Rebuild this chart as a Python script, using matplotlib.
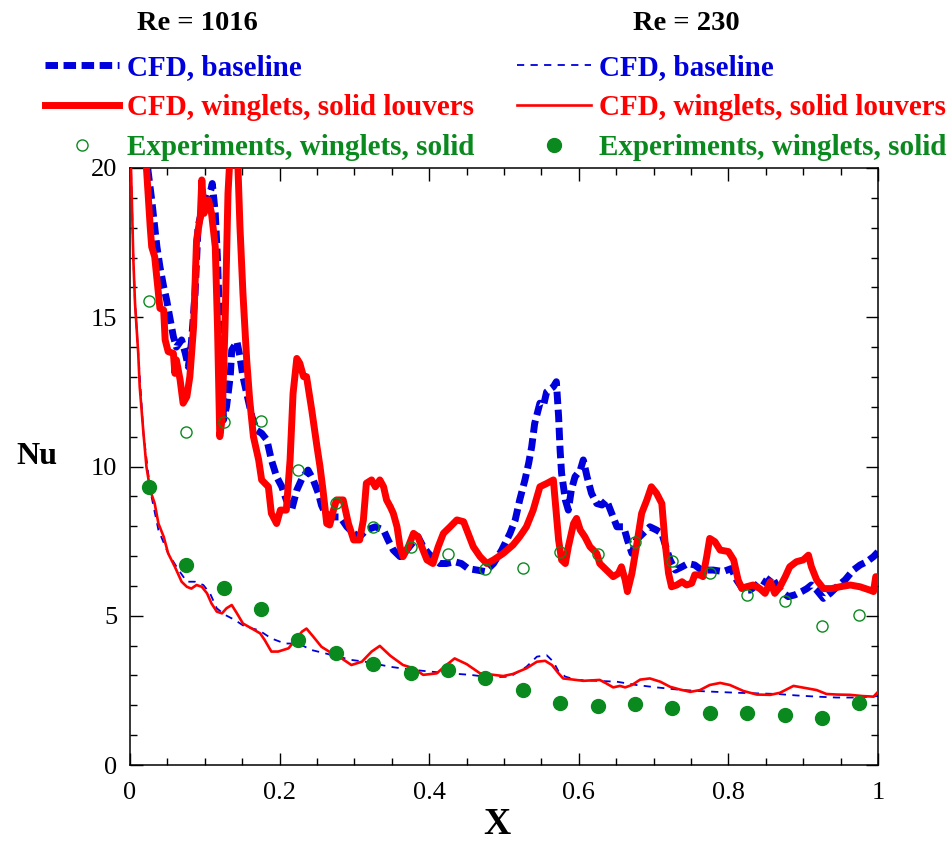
import matplotlib.pyplot as plt
from matplotlib.ticker import MultipleLocator, FuncFormatter

plt.rcParams['font.family'] = 'Liberation Serif'

BLUE = '#0000dd'
RED = '#ff0000'
GREEN = '#0a8a1e'

# Experiments (same x stations for both Re)
x_exp = [0.025, 0.075, 0.125, 0.175, 0.225, 0.275, 0.325, 0.375, 0.425, 0.475,
         0.525, 0.575, 0.625, 0.675, 0.725, 0.775, 0.825, 0.875, 0.925, 0.975]
nu_exp_1016 = [15.54, 11.16, 11.49, 11.52, 9.88, 8.78, 7.97, 7.30, 7.07, 6.57,
               6.60, 7.14, 7.07, 7.47, 6.83, 6.43, 5.70, 5.49, 4.66, 5.02]
nu_exp_230 = [9.31, 6.70, 5.93, 5.23, 4.19, 3.75, 3.38, 3.08, 3.18, 2.91,
              2.51, 2.08, 1.98, 2.04, 1.91, 1.74, 1.74, 1.68, 1.57, 2.08]

# CFD, winglets, solid louvers, Re = 1016
x_wing_1016 = [0.015, 0.022, 0.027, 0.029, 0.033, 0.038, 0.040, 0.045, 0.047, 0.051,
               0.058, 0.060, 0.062, 0.067, 0.071, 0.076, 0.080, 0.085, 0.089, 0.094,
               0.096, 0.099, 0.105, 0.109, 0.114, 0.117, 0.120, 0.123, 0.127, 0.131,
               0.135, 0.143, 0.147, 0.151, 0.156, 0.160, 0.165, 0.172, 0.176, 0.185,
               0.189, 0.196, 0.201, 0.209, 0.214, 0.218, 0.223, 0.227, 0.232, 0.236,
               0.243, 0.250, 0.254, 0.258, 0.263, 0.267, 0.272, 0.276, 0.285, 0.292,
               0.299, 0.307, 0.312, 0.316, 0.323, 0.328, 0.334, 0.339, 0.343, 0.348,
               0.352, 0.357, 0.361, 0.365, 0.372, 0.379, 0.385, 0.390, 0.397, 0.405,
               0.412, 0.419, 0.428, 0.437, 0.446, 0.452, 0.459, 0.468, 0.477, 0.486,
               0.499, 0.512, 0.521, 0.530, 0.539, 0.548, 0.557, 0.566, 0.573, 0.577,
               0.582, 0.586, 0.593, 0.597, 0.602, 0.608, 0.615, 0.624, 0.628, 0.637,
               0.646, 0.653, 0.657, 0.662, 0.665, 0.671, 0.677, 0.684, 0.691, 0.697,
               0.704, 0.711, 0.715, 0.720, 0.724, 0.731, 0.738, 0.744, 0.751, 0.755,
               0.762, 0.766, 0.771, 0.775, 0.782, 0.789, 0.800, 0.807, 0.813, 0.818,
               0.824, 0.833, 0.842, 0.849, 0.856, 0.862, 0.869, 0.876, 0.882, 0.891,
               0.900, 0.907, 0.911, 0.918, 0.927, 0.938, 0.949, 0.963, 0.976, 0.989,
               0.994, 0.997, 1.000]
nu_wing_1016 = [24.0, 20.0, 18.03, 17.36, 17.03, 15.80, 15.30, 15.24, 14.24, 13.85,
                13.79, 13.12, 13.57, 12.90, 12.12, 12.34, 13.01, 14.68, 17.59, 18.37,
                19.60, 18.48, 18.93, 18.48, 17.36, 14.68, 11.00, 11.56, 14.68, 19.15,
                21.0, 21.0, 18.03, 15.80, 13.57, 12.23, 11.00, 10.22, 9.55, 9.32,
                8.43, 8.09, 8.54, 8.54, 10.22, 12.45, 13.62, 13.46, 13.01, 13.01,
                11.89, 10.66, 10.00, 9.21, 8.09, 8.04, 8.54, 8.88, 8.88, 8.09,
                7.54, 7.54, 8.21, 9.44, 9.55, 9.32, 9.55, 9.32, 8.88, 8.65,
                8.43, 7.98, 7.31, 6.98, 7.31, 7.76, 7.65, 7.31, 6.87, 6.75,
                7.31, 7.76, 7.98, 8.21, 8.15, 7.76, 7.31, 6.98, 6.75, 6.87,
                7.09, 7.37, 7.65, 7.98, 8.54, 9.32, 9.43, 9.55, 7.54, 6.87,
                6.75, 7.31, 8.09, 8.26, 7.87, 7.65, 7.31, 7.09, 6.75, 6.53,
                6.31, 6.42, 6.64, 6.20, 5.81, 6.42, 7.31, 8.43, 8.88, 9.32,
                9.10, 8.76, 7.54, 6.42, 5.97, 6.03, 6.14, 6.03, 6.09, 6.37,
                6.37, 6.31, 6.98, 7.59, 7.48, 7.20, 7.15, 6.87, 6.20, 5.91,
                5.97, 6.03, 5.91, 5.75, 6.14, 5.75, 5.97, 6.31, 6.64, 6.81,
                6.87, 7.03, 6.64, 6.20, 5.91, 5.91, 5.97, 6.03, 5.97, 5.86,
                5.81, 6.31, 6.30]

# CFD, baseline, Re = 1016
x_base_1016 = [0.018, 0.024, 0.029, 0.033, 0.036, 0.040, 0.045, 0.049, 0.053, 0.058,
               0.062, 0.069, 0.074, 0.078, 0.082, 0.087, 0.091, 0.098, 0.105, 0.108,
               0.110, 0.114, 0.117, 0.120, 0.123, 0.125, 0.129, 0.134, 0.136, 0.143,
               0.147, 0.151, 0.156, 0.163, 0.169, 0.176, 0.183, 0.189, 0.196, 0.203,
               0.209, 0.216, 0.223, 0.230, 0.238, 0.245, 0.252, 0.256, 0.261, 0.272,
               0.281, 0.290, 0.299, 0.307, 0.316, 0.328, 0.339, 0.345, 0.352, 0.361,
               0.370, 0.377, 0.385, 0.392, 0.399, 0.408, 0.414, 0.423, 0.434, 0.443,
               0.452, 0.464, 0.475, 0.486, 0.497, 0.508, 0.515, 0.521, 0.528, 0.533,
               0.537, 0.541, 0.548, 0.553, 0.557, 0.566, 0.570, 0.573, 0.575, 0.577,
               0.582, 0.586, 0.590, 0.595, 0.602, 0.606, 0.611, 0.617, 0.624, 0.631,
               0.637, 0.644, 0.651, 0.660, 0.665, 0.671, 0.677, 0.686, 0.695, 0.704,
               0.711, 0.715, 0.722, 0.729, 0.738, 0.746, 0.755, 0.764, 0.780, 0.793,
               0.804, 0.811, 0.820, 0.829, 0.838, 0.844, 0.851, 0.858, 0.864, 0.871,
               0.880, 0.889, 0.898, 0.905, 0.911, 0.918, 0.927, 0.936, 0.945, 0.956,
               0.967, 0.976, 0.985, 0.994, 1.000]
nu_base_1016 = [23.0, 19.93, 18.93, 18.03, 17.36, 16.69, 16.02, 15.58, 15.02, 14.35,
                14.00, 14.24, 13.79, 13.34, 14.12, 15.80, 18.03, 18.81, 19.04, 19.26,
                19.48, 18.48, 16.92, 14.68, 13.01, 11.56, 12.00, 13.01, 13.90, 14.18,
                13.68, 13.01, 12.45, 11.67, 11.22, 11.11, 10.89, 10.22, 9.66, 9.32,
                8.88, 8.54, 9.21, 9.60, 9.88, 9.55, 9.09, 8.70, 8.43, 8.31,
                8.31, 7.98, 7.76, 7.65, 7.87, 7.98, 7.87, 7.54, 7.20, 6.98,
                7.20, 7.42, 7.65, 7.31, 7.09, 6.87, 6.75, 6.75, 6.81, 6.75,
                6.58, 6.53, 6.48, 6.75, 7.20, 7.76, 8.21, 8.88, 9.55, 10.11,
                10.66, 11.44, 12.12, 12.06, 12.50, 12.67, 12.84, 11.67, 10.55, 9.77,
                8.88, 8.54, 9.21, 9.66, 9.88, 10.22, 9.66, 9.10, 8.76, 8.71,
                8.88, 8.43, 7.98, 7.98, 7.54, 7.09, 7.54, 7.76, 7.98, 7.87,
                7.76, 7.42, 6.87, 6.53, 6.64, 6.75, 6.70, 6.53, 6.53, 6.48,
                6.58, 6.20, 5.86, 5.86, 6.03, 6.20, 6.09, 6.31, 6.03, 5.81,
                5.64, 5.70, 5.81, 5.91, 6.03, 5.86, 5.58, 5.75, 5.97, 6.20,
                6.53, 6.70, 6.81, 6.98, 7.14]

# CFD, winglets, solid louvers, Re = 230
x_wing_230 = [0.001, 0.0045, 0.0067, 0.011, 0.013, 0.018, 0.022, 0.027, 0.033, 0.038,
              0.045, 0.051, 0.060, 0.069, 0.076, 0.082, 0.089, 0.096, 0.103, 0.109,
              0.116, 0.123, 0.129, 0.136, 0.143, 0.151, 0.163, 0.174, 0.180, 0.189,
              0.198, 0.212, 0.221, 0.230, 0.236, 0.245, 0.256, 0.270, 0.283, 0.296,
              0.310, 0.323, 0.334, 0.348, 0.365, 0.379, 0.392, 0.410, 0.423, 0.434,
              0.450, 0.468, 0.486, 0.499, 0.512, 0.530, 0.544, 0.555, 0.564, 0.573,
              0.579, 0.593, 0.606, 0.628, 0.637, 0.646, 0.655, 0.662, 0.671, 0.682,
              0.695, 0.709, 0.722, 0.735, 0.749, 0.762, 0.775, 0.789, 0.802, 0.820,
              0.838, 0.856, 0.869, 0.887, 0.905, 0.918, 0.931, 0.945, 0.963, 0.979,
              0.994, 1.000]
nu_wing_230 = [20.3, 16.92, 15.47, 13.79, 12.67, 11.11, 9.99, 9.21, 8.76, 8.09,
               7.65, 7.09, 6.64, 6.14, 5.97, 5.91, 6.03, 5.97, 5.75, 5.41,
               5.14, 5.08, 5.25, 5.36, 5.08, 4.74, 4.57, 4.41, 4.19, 3.80,
               3.80, 3.91, 4.19, 4.47, 4.57, 4.30, 3.96, 3.74, 3.57, 3.35,
               3.46, 3.80, 3.99, 3.66, 3.35, 3.24, 3.02, 3.07, 3.35, 3.57,
               3.38, 3.07, 3.02, 2.98, 3.05, 3.24, 3.46, 3.49, 3.35, 3.07,
               2.90, 2.86, 2.82, 2.85, 2.73, 2.60, 2.65, 2.60, 2.68, 2.86,
               2.90, 2.79, 2.62, 2.53, 2.45, 2.51, 2.68, 2.75, 2.68, 2.48,
               2.36, 2.35, 2.42, 2.65, 2.57, 2.51, 2.38, 2.36, 2.35, 2.31,
               2.29, 2.45]

# CFD, baseline, Re = 230
x_base_230 = [0.001, 0.0045, 0.0067, 0.011, 0.018, 0.027, 0.038, 0.051, 0.065, 0.076,
              0.087, 0.098, 0.107, 0.116, 0.127, 0.140, 0.154, 0.172, 0.189, 0.207,
              0.225, 0.243, 0.261, 0.278, 0.296, 0.314, 0.348, 0.374, 0.401, 0.428,
              0.455, 0.481, 0.508, 0.530, 0.544, 0.557, 0.566, 0.573, 0.582, 0.597,
              0.624, 0.651, 0.677, 0.704, 0.731, 0.758, 0.784, 0.811, 0.838, 0.865,
              0.891, 0.918, 0.945, 0.971, 1.000]
nu_base_230 = [20.3, 17.0, 15.5, 13.8, 11.1, 9.21, 7.87, 7.09, 6.53, 6.14,
               6.14, 6.03, 5.75, 5.25, 5.03, 4.86, 4.63, 4.52, 4.24, 4.07,
               4.07, 3.85, 3.74, 3.63, 3.52, 3.46, 3.29, 3.20, 3.13, 3.07,
               3.02, 2.94, 2.96, 3.29, 3.63, 3.68, 3.46, 3.13, 2.96, 2.85,
               2.82, 2.79, 2.68, 2.60, 2.53, 2.48, 2.45, 2.42, 2.40, 2.38,
               2.33, 2.29, 2.26, 2.26, 2.31]

fig = plt.figure(figsize=(9.51, 8.42), dpi=100)
ax = fig.add_axes([130 / 951, 77 / 842, 748 / 951, 597 / 842])

base_hi, = ax.plot(x_base_1016, nu_base_1016, color=BLUE, lw=5,
                   ls=(0, (1.8, 0.8)), dash_capstyle='butt', zorder=2)
wing_hi, = ax.plot(x_wing_1016, nu_wing_1016, color=RED, lw=5, zorder=3)
base_lo, = ax.plot(x_base_230, nu_base_230, color=BLUE, lw=1.3,
                   ls=(0, (4, 3.5)), zorder=2)
wing_lo, = ax.plot(x_wing_230, nu_wing_230, color=RED, lw=1.9, zorder=3)
exp_hi, = ax.plot(x_exp, nu_exp_1016, 'o', mfc='none', mec=GREEN, ms=8, mew=1.0,
                  ls='none', zorder=4)
exp_lo, = ax.plot(x_exp, nu_exp_230, 'o', color=GREEN, ms=10, ls='none', zorder=4)

ax.set_xlim(0, 1)
ax.set_ylim(0, 20)
ax.xaxis.set_major_locator(MultipleLocator(0.2))
ax.xaxis.set_minor_locator(MultipleLocator(0.05))
ax.yaxis.set_major_locator(MultipleLocator(5))
ax.yaxis.set_minor_locator(MultipleLocator(1))
ax.xaxis.set_major_formatter(FuncFormatter(lambda v, p: '%g' % round(v, 2)))
ax.tick_params(which='both', direction='in', top=True, right=True, labelsize=19)
ax.tick_params(which='major', length=9, width=1)
ax.tick_params(which='minor', length=5, width=1)
ax.tick_params(axis='x', pad=12)
ax.tick_params(axis='y', pad=9)
for s in ax.spines.values():
    s.set_linewidth(1.1)

ax.set_ylabel('Nu', rotation=0, fontsize=23, fontweight='bold', va='center', ha='center')
ax.yaxis.set_label_coords(-0.124, 0.516)
ax.set_xlabel('X', fontsize=27, fontweight='bold', va='center')
ax.xaxis.set_label_coords(0.49, -0.10)

leg_kw = dict(loc='upper left', frameon=False, prop=dict(weight='bold', size=21),
              handlelength=2.55, handletextpad=0.25, labelspacing=0.45,
              borderpad=0, borderaxespad=0, numpoints=1)
labels = ['CFD, baseline', 'CFD, winglets, solid louvers', 'Experiments, winglets, solid']
colors = [BLUE, RED, GREEN]
leg1 = fig.legend([base_hi, wing_hi, exp_hi], labels,
                  bbox_to_anchor=(45 / 951, 1 - 54 / 842), **leg_kw)
leg2 = fig.legend([base_lo, wing_lo, exp_lo], labels,
                  bbox_to_anchor=(517 / 951, 1 - 54 / 842), **leg_kw)
for leg in (leg1, leg2):
    for t, c in zip(leg.get_texts(), colors):
        t.set_color(c)

fig.text(197 / 951, 1 - 24 / 842, 'Re = 1016', ha='center', va='center',
         fontsize=20.5, fontweight='bold')
fig.text(686 / 951, 1 - 24 / 842, 'Re = 230', ha='center', va='center',
         fontsize=20.5, fontweight='bold')

fig.savefig('out.png', dpi=100)
